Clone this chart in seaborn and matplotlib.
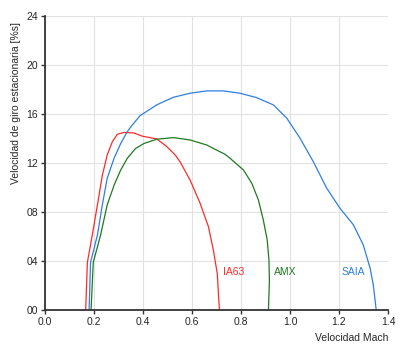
import matplotlib as mpl
import matplotlib.pyplot as plt
import pandas as pd
import seaborn as sns
from matplotlib.ticker import FuncFormatter

# curves (Mach, spin rate %)
ia63_x = [0.166, 0.173, 0.193, 0.214, 0.234, 0.254, 0.275, 0.295, 0.322, 0.363,
          0.397, 0.456, 0.497, 0.531, 0.551, 0.592, 0.633, 0.667, 0.687, 0.703,
          0.712]
ia63_y = [0.0, 3.9, 6.14, 8.6, 11.0, 12.67, 13.75, 14.35, 14.5, 14.46,
          14.2, 13.97, 13.35, 12.67, 12.12, 10.63, 8.73, 6.82, 4.92, 3.02,
          0.0]

amx_x = [0.188, 0.197, 0.227, 0.254, 0.282, 0.309, 0.336, 0.370, 0.404, 0.456,
         0.524, 0.592, 0.660, 0.687, 0.735, 0.755, 0.810, 0.844, 0.871, 0.891,
         0.907, 0.914, 0.916, 0.912]
amx_y = [0.0, 3.9, 6.14, 8.6, 10.2, 11.44, 12.4, 13.2, 13.6, 13.95,
         14.08, 13.89, 13.48, 13.2, 12.72, 12.4, 11.44, 10.36, 9.0, 7.37,
         5.73, 4.1, 2.47, 0.0]

saia_x = [0.180, 0.186, 0.214, 0.234, 0.254, 0.282, 0.309, 0.336, 0.356, 0.388,
          0.456, 0.524, 0.592, 0.660, 0.728, 0.796, 0.864, 0.932, 0.987, 1.041,
          1.095, 1.150, 1.204, 1.259, 1.299, 1.327, 1.340, 1.352]
saia_y = [0.0, 3.9, 6.14, 8.6, 10.77, 12.4, 13.6, 14.57, 15.1, 15.87,
          16.75, 17.37, 17.7, 17.89, 17.89, 17.7, 17.34, 16.75, 15.66, 14.03,
          12.12, 9.95, 8.32, 6.96, 5.33, 3.43, 2.06, 0.0]

labels = ['IA63', 'AMX', 'SAIA']
label_x = [0.725, 0.935, 1.211]
label_y = [3.1, 3.1, 3.1]
colors = ['#ff2a2a', '#1f7a1f', '#2f7fe0']

x_ticks = [0.0, 0.2, 0.4, 0.6, 0.8, 1.0, 1.2, 1.4]
y_ticks = [0, 4, 8, 12, 16, 20, 24]

sns.set_style('whitegrid')
plt.rcParams['font.family'] = ['Liberation Sans', 'DejaVu Sans']

df = pd.concat([
    pd.DataFrame({'mach': ia63_x, 'rate': ia63_y, 'avion': 'IA63'}),
    pd.DataFrame({'mach': amx_x, 'rate': amx_y, 'avion': 'AMX'}),
    pd.DataFrame({'mach': saia_x, 'rate': saia_y, 'avion': 'SAIA'}),
])

fig = plt.figure(figsize=(4.01, 3.55), dpi=100)
ax = fig.add_axes([0.1122, 0.126, 0.8554, 0.829])

sns.lineplot(data=df, x='mach', y='rate', hue='avion', hue_order=labels,
             palette=colors, sort=False, estimator=None, lw=0.9,
             legend=False, ax=ax)

for name, lx, ly, c in zip(labels, label_x, label_y, colors):
    ax.text(lx, ly, name, color=c, fontsize=7.5, va='center', ha='left')

ax.set_xlim(0, 1.4)
ax.set_ylim(0, 24)
ax.set_xticks(x_ticks)
ax.set_yticks(y_ticks)
ax.xaxis.set_major_formatter(FuncFormatter(lambda v, p: f'{v:.1f}'))
ax.yaxis.set_major_formatter(FuncFormatter(lambda v, p: f'{int(round(v)):02d}'))
ax.tick_params(axis='both', labelsize=7.5, direction='out', length=3,
               width=1, color='#333333', left=True, bottom=True, pad=2)
ax.grid(True, color='#e2e2e2', lw=0.8)
for s in ['top', 'right']:
    ax.spines[s].set_visible(False)
for s in ['left', 'bottom']:
    ax.spines[s].set_visible(True)
    ax.spines[s].set_color('#333333')
    ax.spines[s].set_linewidth(1.3)

ax.set_xlabel('Velocidad Mach', fontsize=7.5, ha='right', x=1.0, labelpad=4)
ax.set_ylabel('Velocidad de giro estacionaria [%s]', fontsize=7.5,
              ha='right', y=0.98, labelpad=4)

fig.savefig('out.png', dpi=100)
